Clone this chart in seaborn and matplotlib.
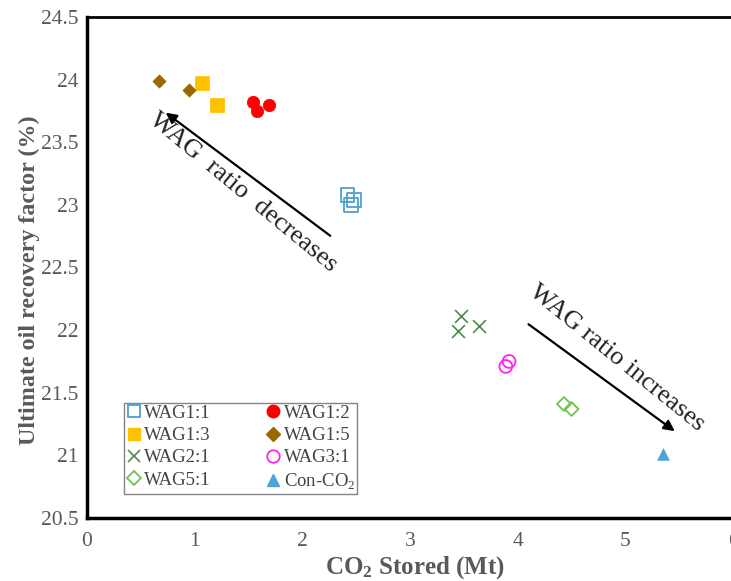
import matplotlib
matplotlib.use("Agg")
import matplotlib.pyplot as plt
from matplotlib.ticker import MultipleLocator
from matplotlib.lines import Line2D
import seaborn as sns
import pandas as pd

# CO2 stored (Mt) and ultimate oil recovery factor (%) per injection scheme
wag11_x = [2.42, 2.45, 2.48]
wag11_y = [23.08, 23.00, 23.04]
wag12_x = [1.54, 1.58, 1.69]
wag12_y = [23.82, 23.75, 23.80]
wag13_x = [1.07, 1.21]
wag13_y = [23.97, 23.80]
wag15_x = [0.67, 0.95]
wag15_y = [23.99, 23.92]
wag21_x = [3.47, 3.45, 3.64]
wag21_y = [22.11, 21.99, 22.03]
wag31_x = [3.92, 3.89]
wag31_y = [21.75, 21.71]
wag51_x = [4.43, 4.50]
wag51_y = [21.41, 21.37]
con_x = [5.35]
con_y = [21.01]

labels = ["WAG1:1", "WAG1:2", "WAG1:3", "WAG1:5",
          "WAG2:1", "WAG3:1", "WAG5:1", "Con-CO$_2$"]
y_ticks = [20.5, 21, 21.5, 22, 22.5, 23, 23.5, 24, 24.5]
y_tick_labels = ["20.5", "21", "21.5", "22", "22.5", "23", "23.5", "24", "24.5"]

sns.set_theme(style="white")
plt.rcParams["font.family"] = ["Liberation Serif", "DejaVu Serif"]
plt.rcParams["mathtext.fontset"] = "custom"
plt.rcParams["mathtext.rm"] = "Liberation Serif"
plt.rcParams["mathtext.bf"] = "Liberation Serif:bold"

# (x, y, marker, color, filled, size)
series = [
    (wag11_x, wag11_y, "s", "#4f9fcf", False, 95),
    (wag12_x, wag12_y, "o", "#ff0000", True, 80),
    (wag13_x, wag13_y, "s", "#ffc000", True, 95),
    (wag15_x, wag15_y, "D", "#9a6700", True, 45),
    (wag21_x, wag21_y, "x", "#4e8a4e", False, 85),
    (wag31_x, wag31_y, "o", "#ff22ee", False, 85),
    (wag51_x, wag51_y, "D", "#72c04a", False, 50),
    (con_x, con_y, "^", "#4ea3d8", True, 70),
]

frames = []
for lab, (xs, ys, *_rest) in zip(labels, series):
    frames.append(pd.DataFrame({"stored": xs, "recovery": ys, "case": lab}))
df = pd.concat(frames, ignore_index=True)

fig = plt.figure(figsize=(7.31, 5.81), dpi=100)
ax = fig.add_axes([87 / 731, 63 / 581, 646 / 731, 501 / 581])

handles = []
for lab, (xs, ys, m, c, filled, s) in zip(labels, series):
    sub = df[df["case"] == lab]
    if m == "x":
        sns.scatterplot(data=sub, x="stored", y="recovery", ax=ax, marker="x",
                        color=c, s=s, linewidth=1.2, legend=False)
        h = Line2D([], [], marker="x", color=c, ls="none", markersize=9, mew=1.2)
    elif filled:
        sns.scatterplot(data=sub, x="stored", y="recovery", ax=ax, marker=m,
                        color=c, s=s, edgecolor=c, linewidth=0.5, legend=False)
        h = Line2D([], [], marker=m, color=c, mec=c, ls="none",
                   markersize=9 if m != "D" else 7)
    else:
        sns.scatterplot(data=sub, x="stored", y="recovery", ax=ax, marker=m,
                        facecolor="none", edgecolor=c, s=s, linewidth=1.3,
                        legend=False)
        h = Line2D([], [], marker=m, mfc="none", mec=c, ls="none",
                   markersize=9 if m != "D" else 7, mew=1.3)
    handles.append(h)

ax.set_xlim(0, 6)
ax.set_ylim(20.5, 24.5)
ax.xaxis.set_major_locator(MultipleLocator(1))
ax.xaxis.set_minor_locator(MultipleLocator(0.2))
ax.set_yticks(y_ticks)
ax.set_yticklabels(y_tick_labels)
ax.yaxis.set_minor_locator(MultipleLocator(0.1))

ax.tick_params(which="both", direction="in", color="black", width=1.2,
               labelsize=15.5, labelcolor="#595959", pad=6)
ax.tick_params(which="major", length=5)
ax.tick_params(which="minor", length=4)
ax.tick_params(axis="x", pad=10)
for side in ["left", "bottom", "top"]:
    ax.spines[side].set_color("black")
ax.spines["left"].set_linewidth(2.5)
ax.spines["bottom"].set_linewidth(2.5)
ax.spines["top"].set_linewidth(2.0)
ax.spines["right"].set_visible(False)

ax.set_xlabel(r"$\mathbf{CO_2}$ Stored (Mt)", fontsize=18, fontweight="bold",
              color="#595959")
ax.set_ylabel("Ultimate oil recovery factor (%)", fontsize=17.3,
              fontweight="bold", color="#595959")
ax.xaxis.set_label_coords(0.508, -0.072)
ax.yaxis.set_label_coords(-0.072, 0.475)

# Trend arrows with their captions
ax.annotate("", xy=(0.71, 23.75), xytext=(2.28, 22.74),
            arrowprops=dict(arrowstyle="-|>", color="black", lw=1.6,
                            mutation_scale=16))
ax.annotate("", xy=(5.48, 21.18), xytext=(4.08, 22.06),
            arrowprops=dict(arrowstyle="-|>", color="black", lw=1.6,
                            mutation_scale=16))
ax.text(1.45, 23.1, "WAG  ratio  decreases", rotation=-39.5, fontsize=19,
        ha="center", va="center", color="#222222", rotation_mode="anchor")
ax.text(4.92, 21.78, "WAG ratio increases", rotation=-39, fontsize=19,
        ha="center", va="center", color="#222222", rotation_mode="anchor")

order = [0, 2, 4, 6, 1, 3, 5, 7]
leg = ax.legend([handles[i] for i in order], [labels[i] for i in order],
                ncol=2, loc="lower left", bbox_to_anchor=(0.057, 0.048),
                borderaxespad=0, fontsize=13.5, frameon=True, fancybox=False,
                handlelength=0.8, handletextpad=0.15, columnspacing=2.95,
                labelspacing=0.27, borderpad=0.12)
leg.get_frame().set_edgecolor("#666666")
leg.get_frame().set_linewidth(1.0)
for t in leg.get_texts():
    t.set_color("#444444")

fig.savefig("out.png", dpi=100)
